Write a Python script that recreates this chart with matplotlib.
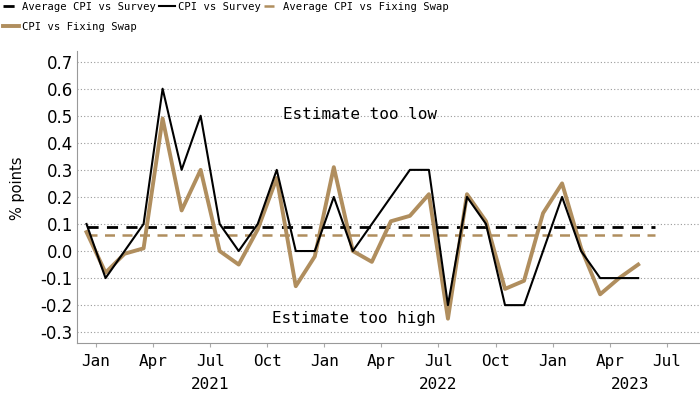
import matplotlib
matplotlib.use("Agg")
import matplotlib.pyplot as plt
import numpy as np

# monthly misses, Dec 2020 .. May 2023 (one point per month)
cpi_vs_survey = [0.1, -0.1, 0.0, 0.1, 0.6, 0.3, 0.5, 0.1, 0.0, 0.1,
                 0.3, 0.0, 0.0, 0.2, 0.0, 0.1, 0.2, 0.3, 0.3, -0.2,
                 0.2, 0.1, -0.2, -0.2, 0.0, 0.2, 0.0, -0.1, -0.1, -0.1]
cpi_vs_swap = [0.07, -0.08, -0.01, 0.01, 0.49, 0.15, 0.30, 0.0, -0.05, 0.08,
               0.27, -0.13, -0.02, 0.31, 0.0, -0.04, 0.11, 0.13, 0.21, -0.25,
               0.21, 0.11, -0.14, -0.11, 0.14, 0.25, 0.01, -0.16, -0.10, -0.05]
avg_survey = 0.09
avg_swap = 0.06

month_labels = ["Jan", "Apr", "Jul", "Oct", "Jan", "Apr", "Jul", "Oct", "Jan", "Apr", "Jul"]
years = ["2021", "2022", "2023"]

black = "#000000"
gold = "#B08E5E"
mono = "DejaVu Sans Mono"

x = np.arange(len(cpi_vs_survey))

fig = plt.figure(figsize=(7, 3.94), dpi=100)
ax = fig.add_axes([0.110, 0.1294, 0.890, 0.7416])

# horizontal dotted grid
ax.set_yticks(np.arange(-0.3, 0.71, 0.1))
ax.grid(axis="y", color="#9a9a9a", linestyle=(0, (1, 2)), linewidth=0.8)
ax.set_axisbelow(True)

l_avg_s, = ax.plot([x[0], x[-1] + 0.9], [avg_survey] * 2, color=black, lw=2.0,
                   ls=(0, (4, 3)), label="Average CPI vs Survey")
l_avg_w, = ax.plot([x[0], x[-1] + 0.9], [avg_swap] * 2, color=gold, lw=1.8,
                   ls=(0, (4, 3)), label="Average CPI vs Fixing Swap")
l_swap, = ax.plot(x, cpi_vs_swap, color=gold, lw=2.8, label="CPI vs Fixing Swap")
l_surv, = ax.plot(x, cpi_vs_survey, color=black, lw=1.5, label="CPI vs Survey")

ax.set_xlim(-0.5, 32.25)
ax.set_ylim(-0.34, 0.74)

# month ticks sit half a month after the points
tick_pos = 0.5 + 3 * np.arange(len(month_labels))
ax.set_xticks(tick_pos)
ax.set_xticklabels(month_labels, fontfamily=mono, fontsize=11.5)
ax.tick_params(axis="x", length=3, color="#aaaaaa", pad=5)
ax.tick_params(axis="y", length=0, pad=3, labelsize=12)
ax.set_yticklabels([f"{v:.1f}" for v in np.arange(-0.3, 0.71, 0.1)])

for year, xp in zip(years, [6.5, 18.5, 28.6]):
    ax.annotate(year, xy=(xp, 0), xycoords=("data", "axes fraction"),
                xytext=(0, -30), textcoords="offset points",
                ha="center", va="center", fontfamily=mono, fontsize=11.5)

for side in ["top", "right"]:
    ax.spines[side].set_visible(False)
ax.spines["left"].set_color("#999999")
ax.spines["bottom"].set_color("#999999")

ax.set_ylabel("% points", fontsize=10.5, labelpad=8)
ax.yaxis.set_label_coords(-0.083, 0.53)

ax.text(14.4, 0.505, "Estimate too low", ha="center", va="center",
        fontfamily=mono, fontsize=11.5)
ax.text(14.05, -0.25, "Estimate too high", ha="center", va="center",
        fontfamily=mono, fontsize=11.5)

# legend: row-major order via column-major fill
handles = [l_avg_s, l_swap, l_surv, l_avg_w]
fig.legend(handles, [h.get_label() for h in handles], loc="upper left",
           bbox_to_anchor=(-0.005, 1.012), ncol=3, frameon=False,
           prop={"family": mono, "size": 7.6}, handlelength=1.5,
           handletextpad=0.3, columnspacing=0.3, labelspacing=1.0,
           borderaxespad=0.2)

fig.savefig("out.png", dpi=100)
